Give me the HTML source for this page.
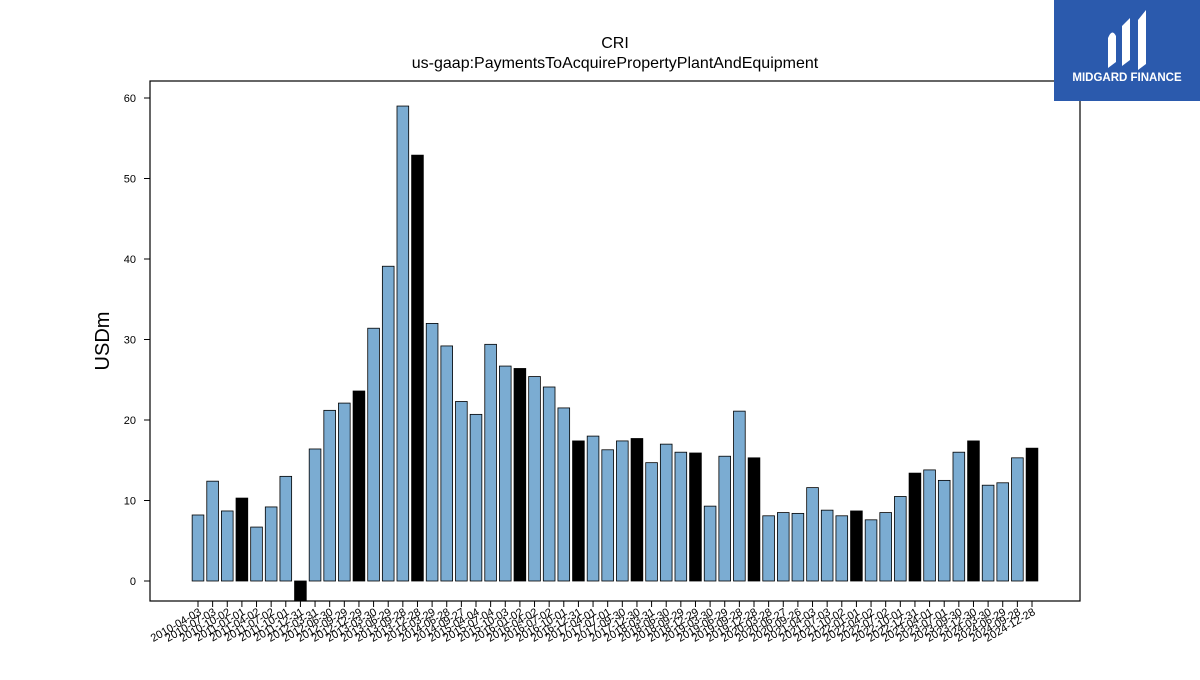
<!DOCTYPE html>
<html><head><meta charset="utf-8"><style>
body{margin:0;background:#fff;font-family:"Liberation Sans",sans-serif}
</style></head><body>
<svg width="1200" height="675" xmlns="http://www.w3.org/2000/svg" font-family="Liberation Sans, DejaVu Sans, sans-serif">
<text x="615" y="48" text-anchor="middle" font-size="16">CRI</text>
<text x="615" y="68" text-anchor="middle" font-size="16">us-gaap:PaymentsToAcquirePropertyPlantAndEquipment</text>
<text transform="translate(109,341) rotate(-90)" text-anchor="middle" font-size="20">USDm</text>
<g id="bars"></g>
<g id="yt"></g>
<g id="xt"></g>
<rect x="150" y="81" width="930" height="520" fill="none" stroke="#000" stroke-width="1.2"/>
<g>
<rect x="1054" y="0" width="146" height="101" fill="#2b5aad"/>
<path d="M1108 68 L1108 38 Q1112 28 1116 36 L1116 62 Z M1122 66 L1122 26 L1130 18 L1130 60 Z M1138 70 L1138 20 L1146 10 L1146 64 Z" fill="#fff"/>
<text x="1127" y="81" text-anchor="middle" font-size="11.5" font-weight="bold" fill="#fff">MIDGARD FINANCE</text>
</g>
</svg>
<script>
const dates=["2010-04-03","2010-07-03","2010-10-02","2011-01-01","2011-04-02","2011-07-02","2011-10-01","2011-12-31","2012-03-31","2012-06-30","2012-09-29","2012-12-29","2013-03-30","2013-06-29","2013-09-28","2013-12-28","2014-03-29","2014-06-28","2014-09-27","2015-04-04","2015-07-04","2015-10-03","2016-01-02","2016-04-02","2016-07-02","2016-10-01","2016-12-31","2017-04-01","2017-07-01","2017-09-30","2017-12-30","2018-03-31","2018-06-30","2018-09-29","2018-12-29","2019-03-30","2019-06-29","2019-09-28","2019-12-28","2020-03-28","2020-06-27","2020-09-26","2021-04-03","2021-07-03","2021-10-02","2022-01-01","2022-04-02","2022-07-02","2022-10-01","2022-12-31","2023-04-01","2023-07-01","2023-09-30","2023-12-30","2024-03-30","2024-06-29","2024-09-28","2024-12-28"];
const values=[8.2,12.4,8.7,10.3,6.7,9.2,13.0,-2.5,16.4,21.2,22.1,23.6,31.4,39.1,59.0,52.9,32.0,29.2,22.3,20.7,29.4,26.7,26.4,25.4,24.1,21.5,17.4,18.0,16.3,17.4,17.7,14.7,17.0,16.0,15.9,9.3,15.5,21.1,15.3,8.1,8.5,8.4,11.6,8.8,8.1,8.7,7.6,8.5,10.5,13.4,13.8,12.5,16.0,17.4,11.9,12.2,15.3,16.5];
const annual=[3,7,11,15,22,26,30,34,38,45,49,53,57];
const yTicks=[0,10,20,30,40,50,60];
const NS="http://www.w3.org/2000/svg";
const x0=198,x1=1032;
const xs=i=>x0+(x1-x0)*i/(dates.length-1);
const ys=v=>581-v*(581-98)/60;
const bw=(x1-x0)/(dates.length-1)*0.8;
function mk(t,a,p){const e=document.createElementNS(NS,t);for(const k in a)e.setAttribute(k,a[k]);p.appendChild(e);return e;}
const gb=document.getElementById('bars'),gy=document.getElementById('yt'),gx=document.getElementById('xt');
values.forEach((v,i)=>{
 const top=Math.min(ys(v),ys(0)),h=Math.abs(ys(v)-ys(0));
 const r=mk('rect',{x:xs(i)-bw/2,y:top,width:bw,height:h,fill:annual.includes(i)?'#000':'#7bacd2',stroke:'#000','stroke-width':0.8},gb);
 
 
});
yTicks.forEach(t=>{
 const y=ys(t);
 const l=mk('line',{x1:144,x2:150,y1:y,y2:y,stroke:'#000'},gy);
 
 
 const tx=mk('text',{x:136,y:y+4,'text-anchor':'end','font-size':11},gy);
 tx.textContent=t;
 
 
});
dates.forEach((d,i)=>{
 const x=xs(i);
 const l=mk('line',{x1:x,x2:x,y1:601,y2:607,stroke:'#000'},gx);
 
 
 const tx=mk('text',{transform:`translate(${x+4},${614}) rotate(-30)`,'text-anchor':'end','font-size':11},gx);
 tx.textContent=d;
 
 
});
</script>
</body></html>
